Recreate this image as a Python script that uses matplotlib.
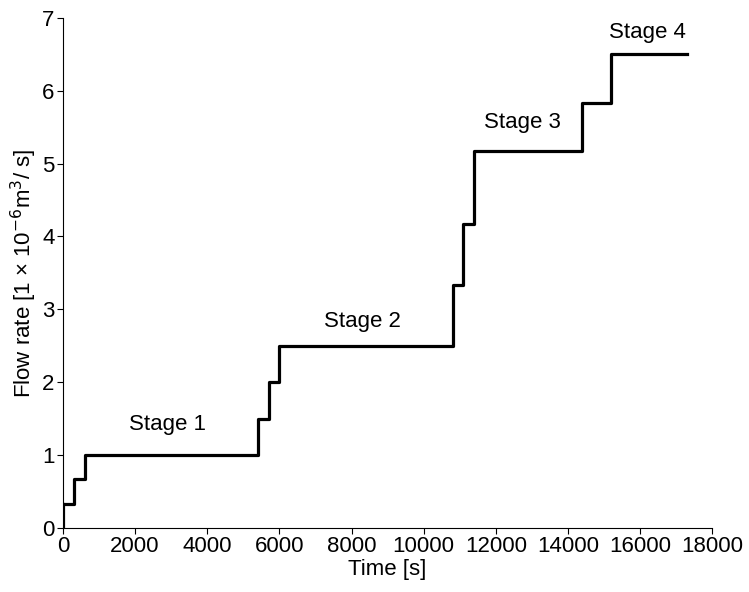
import numpy as np
import matplotlib.pyplot as plt

plt.rcParams['font.family'] = ['Liberation Sans', 'DejaVu Sans']

# step change times [s] and flow rates [1e-6 m3/s]
times = [0, 300, 600, 5400, 5700, 6000, 10800, 11100, 11400, 14400, 15200, 17300]
rates = [0.333, 0.667, 1.0, 1.5, 2.0, 2.5, 3.333, 4.167, 5.167, 5.833, 6.5, 6.5]

stage_labels = ['Stage 1', 'Stage 2', 'Stage 3', 'Stage 4']
stage_x = [2900, 8300, 12750, 16200]
stage_y = [1.42, 2.83, 5.56, 6.8]

fig = plt.figure(figsize=(7.49, 5.92), dpi=100)
ax = fig.add_axes([0.084, 0.108, 0.867, 0.862])

ax.step(times, rates, where='post', color='black', lw=2.3)
ax.plot([0, 0], [0, rates[0]], color='black', lw=2.3)

for lab, x, y in zip(stage_labels, stage_x, stage_y):
    ax.text(x, y, lab, ha='center', va='center', fontsize=16)

ax.set_xlim(0, 18000)
ax.set_ylim(0, 7)
ax.set_xticks(np.arange(0, 18001, 2000))
ax.set_yticks(np.arange(0, 8, 1))
ax.tick_params(labelsize=16, direction='out', length=4, width=0.8, pad=2)
ax.spines['top'].set_visible(False)
ax.spines['right'].set_visible(False)
ax.set_xlabel('Time [s]', fontsize=16, labelpad=1)
ax.set_ylabel('Flow rate [1 × 10$^{-6}$m$^3$/ s]', fontsize=16, labelpad=2)

fig.savefig('out.png', dpi=100)
